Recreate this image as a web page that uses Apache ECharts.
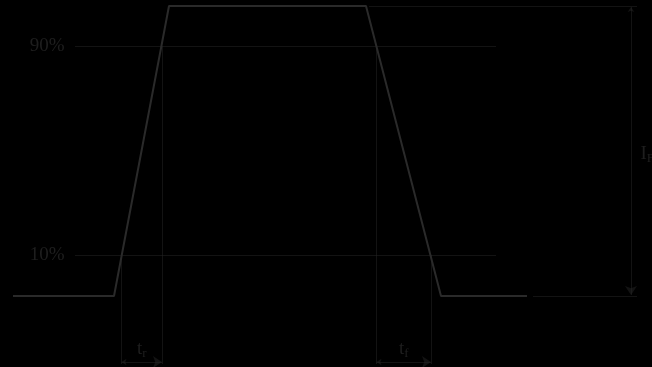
<!DOCTYPE html>
<html><head><meta charset="utf-8">
<script src="https://cdn.jsdelivr.net/npm/echarts@6/dist/echarts.min.js"></script>
<style>html,body{margin:0;padding:0;background:#000}#c{width:652px;height:367px}</style>
</head><body><div id="c"></div>
<script>
// waveform (time units, current units; low level 0, high level 290)
const waveX = [13, 114, 169, 366, 441, 527];
const waveY = [0, 0, 290, 290, 0, 0];
// threshold levels
const level10 = 41, level90 = 250;
const levelLabels = ['10%', '90%'];
const levelSpan = [75, 496];
// timing markers
const trStart = 121.5, trEnd = 162, tfStart = 376.5, tfEnd = 431;
const markerBottom = -68, arrowY = -66;
// IF reference
const refTopSpan = [369, 637];
const refBottomSpan = [533, 637];
const ifX = 631;
const lowLevel = 0, highLevel = 290;

const C = '#262626';
const thin = {color: C, width: 1};

function seg(x1, y1, x2, y2) { return [[x1, y1], [x2, y2]]; }

const thinLines = [
  seg(levelSpan[0], level90, levelSpan[1], level90),
  seg(levelSpan[0], level10, levelSpan[1], level10),
  seg(trStart, level10, trStart, markerBottom),
  seg(trEnd, level90, trEnd, markerBottom),
  seg(tfStart, level90, tfStart, markerBottom),
  seg(tfEnd, level10, tfEnd, markerBottom),
  seg(refTopSpan[0], highLevel, refTopSpan[1], highLevel),
  seg(refBottomSpan[0], lowLevel, refBottomSpan[1], lowLevel)
];
const arrowLines = [
  seg(trStart, arrowY, trEnd, arrowY),
  seg(tfStart, arrowY, tfEnd, arrowY),
  seg(ifX, highLevel - 1, ifX, lowLevel + 1)
];

const serif = '"Liberation Serif","DejaVu Serif",serif';
const hidden = {color: 'rgba(0,0,0,0)'};
const chart = echarts.init(document.getElementById('c'));
chart.setOption({
  backgroundColor: '#000',
  animation: false,
  grid: {left: 0, right: 0, top: 0, bottom: 0},
  xAxis: {type: 'value', min: 0, max: 652, show: false},
  yAxis: {type: 'value', min: -71, max: 296, show: false},
  series: [
    {type: 'line', data: waveX.map((x, i) => [x, waveY[i]]), symbol: 'none',
     lineStyle: {color: '#2a2a2a', width: 2}},
    {type: 'lines', coordinateSystem: 'cartesian2d', polyline: false,
     data: thinLines.map(c => ({coords: c})), lineStyle: thin, symbol: 'none'},
    {type: 'lines', coordinateSystem: 'cartesian2d',
     data: arrowLines.map(c => ({coords: c})), lineStyle: thin,
     symbol: ['arrow', 'arrow'], symbolSize: [5, 9]},
    {type: 'scatter', symbolSize: 1, itemStyle: hidden,
     data: [[65, level90, levelLabels[1]], [65, level10, levelLabels[0]]],
     label: {show: true, position: 'left', distance: 0, formatter: p => p.data[2],
       color: C, fontFamily: serif, fontSize: 19}},
    {type: 'scatter', symbolSize: 1, itemStyle: hidden,
     data: [[(trStart + trEnd) / 2, -53, 'r'], [(tfStart + tfEnd) / 2, -53, 'f']],
     label: {show: true, position: 'inside', formatter: p => '{a|t}{b|' + p.data[2] + '}',
       rich: {a: {color: C, fontFamily: serif, fontSize: 19},
              b: {color: C, fontFamily: serif, fontSize: 13, padding: [10, 0, 0, 0]}}}},
    {type: 'scatter', symbolSize: 1, itemStyle: hidden,
     data: [[640, 142, 'F']],
     label: {show: true, position: 'right', distance: 0, formatter: p => '{a|I}{b|' + p.data[2] + '}',
       rich: {a: {color: C, fontFamily: serif, fontSize: 19},
              b: {color: C, fontFamily: serif, fontSize: 13, padding: [10, 0, 0, 0]}}}}
  ]
});
</script></body></html>
